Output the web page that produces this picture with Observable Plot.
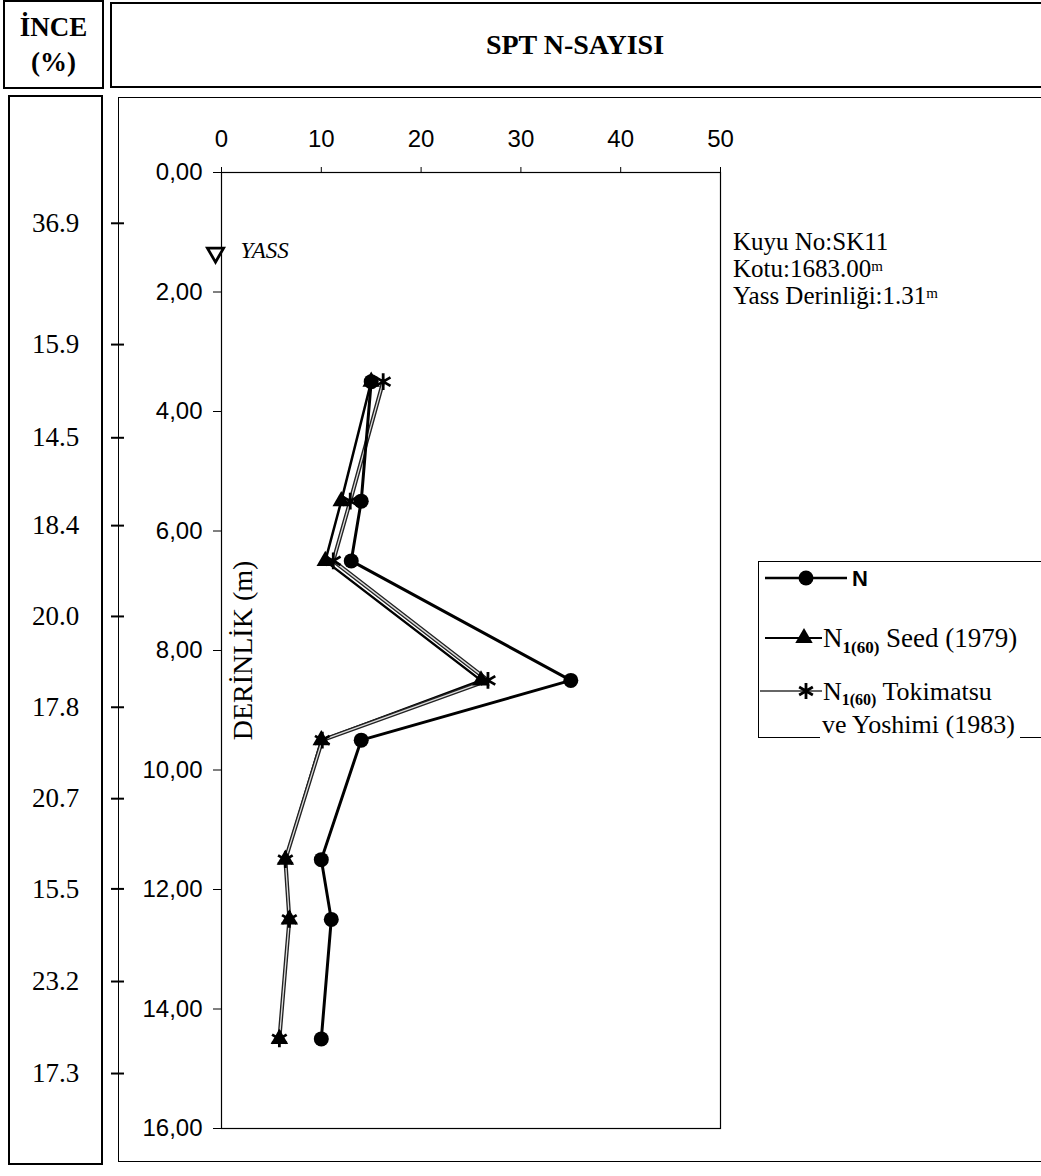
<!DOCTYPE html>
<html><head><meta charset="utf-8">
<script src="https://cdn.jsdelivr.net/npm/d3@7"></script>
<script src="https://cdn.jsdelivr.net/npm/@observablehq/plot@0.6"></script>
<style>
body{margin:0;background:#fff;}
#wrap{position:relative;width:1041px;height:1176px;overflow:hidden;background:#fff;font-family:"Liberation Serif","Times New Roman",serif;color:#000;}
.box{position:absolute;box-sizing:border-box;border:2px solid #000;}
#chart{position:absolute;left:0;top:0;}
.hdr{display:flex;align-items:center;justify-content:center;text-align:center;font-weight:bold;}
#note{position:absolute;left:733px;top:228px;font-size:25px;line-height:27px;white-space:nowrap;}
#note sup{font-size:60%;vertical-align:top;position:relative;top:-2px;}
#legend{position:absolute;left:758px;top:561px;}
</style></head><body>
<div id="wrap">
  <div id="chart"></div>
  <div class="box hdr" style="left:3px;top:0px;width:101px;height:89px;font-size:27px;line-height:35px;">İNCE<br>(%)</div>
  <div class="box hdr" style="left:110px;top:2px;width:940px;height:86px;font-size:28px;padding-right:10px;">SPT N-SAYISI</div>
  <div class="box" style="left:8px;top:95px;width:95px;height:1070px;"></div>
  <div class="box" style="left:118px;top:97px;width:940px;height:1065px;border-width:1.5px;"></div>
  <div id="note">Kuyu No:SK11<br>Kotu:1683.00<sup>m</sup><br>Yass Derinliği:1.31<sup>m</sup></div>
  <div id="legend"></div>
</div>
<script>
// ---- data ----
const depths     = [3.5, 5.5, 6.5, 8.5, 9.5, 11.5, 12.5, 14.5];
const nValues    = [15, 14, 13, 35, 14, 10, 11, 10];
const seedValues = [15, 12, 10.4, 26, 10, 6.4, 6.8, 5.8];
const tokiValues = [16.2, 12.9, 11.2, 26.7, 10.1, 6.4, 6.8, 5.8];
const fineDepths = [0.85, 2.88, 4.44, 5.91, 7.43, 8.95, 10.48, 11.99, 13.54, 15.08];
const fineLabels = ["36.9", "15.9", "14.5", "18.4", "20.0", "17.8", "20.7", "15.5", "23.2", "17.3"];
const xTicks = [0, 10, 20, 30, 40, 50];
const yTicks = [0, 2, 4, 6, 8, 10, 12, 14, 16];
const gwtDepth = 1.31;

const rows = depths.map((d, i) => ({depth: d, n: nValues[i], seed: seedValues[i], toki: tokiValues[i]}));
const fines = fineDepths.map((d, i) => ({depth: d, label: fineLabels[i]}));
const hTick = {draw(ctx, size) { const r = Math.sqrt(size / Math.PI); ctx.moveTo(-r, 0); ctx.lineTo(r, 0); }};
const serif = "Liberation Serif";

const plot = Plot.plot({
  width: 1041, height: 1176,
  marginLeft: 221, marginRight: 321, marginTop: 172, marginBottom: 48,
  style: {background: "transparent", overflow: "visible", fontFamily: "Liberation Sans", fontSize: "24px", color: "#000"},
  x: {domain: [0, 50], axis: "top", ticks: xTicks, tickSize: 6, tickPadding: 20, label: null},
  y: {domain: [0, 16], reverse: true, ticks: yTicks, tickSize: 8, tickPadding: 11, label: null,
      tickFormat: d => d.toFixed(2).replace(".", ",")},
  marks: [
    Plot.frame({stroke: "#000", strokeWidth: 1.2}),
    Plot.text(["DERİNLİK (m)"], {frameAnchor: "left", rotate: -90, dx: 22, text: d => d, textAnchor: "middle", fontSize: 28, fontFamily: serif}),
    // fines column
    Plot.dot(fines, {y: "depth", frameAnchor: "left", dx: -104, symbol: hTick, r: 6.5, stroke: "#000", fill: "none", strokeWidth: 2}),
    Plot.text(fines, {y: "depth", text: "label", frameAnchor: "left", dx: -166, textAnchor: "middle", fontSize: 27, fontFamily: serif}),
    // groundwater
    Plot.dot([{x: 0, y: gwtDepth}], {x: "x", y: "y", symbol: "triangle", rotate: 180, r: 6, dx: -6, dy: 2, fill: "#fff", stroke: "#000", strokeWidth: 2.8}),
    Plot.text([{x: 0, y: gwtDepth}], {x: "x", y: "y", text: () => "YASS", dx: 19, textAnchor: "start", fontStyle: "italic", fontSize: 23, fontFamily: serif}),
    // series lines
    Plot.line(rows, {x: "seed", y: "depth", stroke: "#000", strokeWidth: 2.5}),
    Plot.line(rows, {x: "toki", y: "depth", stroke: "#222", strokeWidth: 4}),
    Plot.line(rows, {x: "toki", y: "depth", stroke: "#ddd", strokeWidth: 1.3}),
    Plot.line(rows, {x: "n", y: "depth", stroke: "#000", strokeWidth: 3}),
    // markers
    Plot.dot(rows, {x: "seed", y: "depth", symbol: "triangle", r: 6.5, fill: "#000"}),
    Plot.dot(rows, {x: "toki", y: "depth", symbol: "asterisk", r: 8, stroke: "#000", fill: "none", strokeWidth: 2.8}),
    Plot.dot(rows, {x: "n", y: "depth", symbol: "circle", r: 7.5, fill: "#000"})
  ]
});
document.getElementById("chart").appendChild(plot);

// legend
const leg = d3.select("#legend").append("svg").attr("width", 320).attr("height", 180).style("overflow", "visible");
leg.append("rect").attr("x", 0.5).attr("y", 0.5).attr("width", 330).attr("height", 176).attr("fill", "none").attr("stroke", "#000");
// N
leg.append("line").attr("x1", 7).attr("x2", 89).attr("y1", 17).attr("y2", 17).attr("stroke", "#000").attr("stroke-width", 2.5);
leg.append("path").attr("d", d3.symbol(d3.symbolCircle, Math.PI * 56)()).attr("transform", "translate(48,17)").attr("fill", "#000");
leg.append("text").attr("x", 94).attr("y", 17).attr("dy", "0.35em").attr("font-family", "Liberation Sans").attr("font-weight", "bold").attr("font-size", 22).text("N");
// Seed
leg.append("line").attr("x1", 7).attr("x2", 64).attr("y1", 77).attr("y2", 77).attr("stroke", "#000").attr("stroke-width", 2);
leg.append("path").attr("d", d3.symbol(d3.symbolTriangle, Math.PI * 42)()).attr("transform", "translate(46,77)").attr("fill", "#000");
const t1 = leg.append("text").attr("x", 65).attr("y", 77).attr("dy", "0.35em").attr("font-family", serif).attr("font-size", 27);
t1.append("tspan").text("N");
t1.append("tspan").attr("font-size", 17).attr("font-weight", "bold").attr("dy", 6).text("1(60)");
t1.append("tspan").attr("dy", -6).text(" Seed (1979)");
// Tokimatsu
leg.append("line").attr("x1", 2).attr("x2", 64).attr("y1", 130).attr("y2", 130).attr("stroke", "#333").attr("stroke-width", 1.5);
leg.append("path").attr("d", d3.symbol(d3.symbolAsterisk, Math.PI * 56)()).attr("transform", "translate(48,130)").attr("fill", "none").attr("stroke", "#000").attr("stroke-width", 2.8);
const t2 = leg.append("text").attr("x", 65).attr("y", 130).attr("dy", "0.35em").attr("font-family", serif).attr("font-size", 26);
t2.append("tspan").text("N");
t2.append("tspan").attr("font-size", 16).attr("font-weight", "bold").attr("dy", 5).text("1(60)");
t2.append("tspan").attr("dy", -5).text("  Tokimatsu");
leg.append("rect").attr("x", 62).attr("y", 152).attr("width", 200).attr("height", 30).attr("fill", "#fff");
leg.append("text").attr("x", 64).attr("y", 163).attr("dy", "0.35em").attr("font-family", serif).attr("font-size", 26).text("ve Yoshimi (1983)");
</script>
</body></html>
